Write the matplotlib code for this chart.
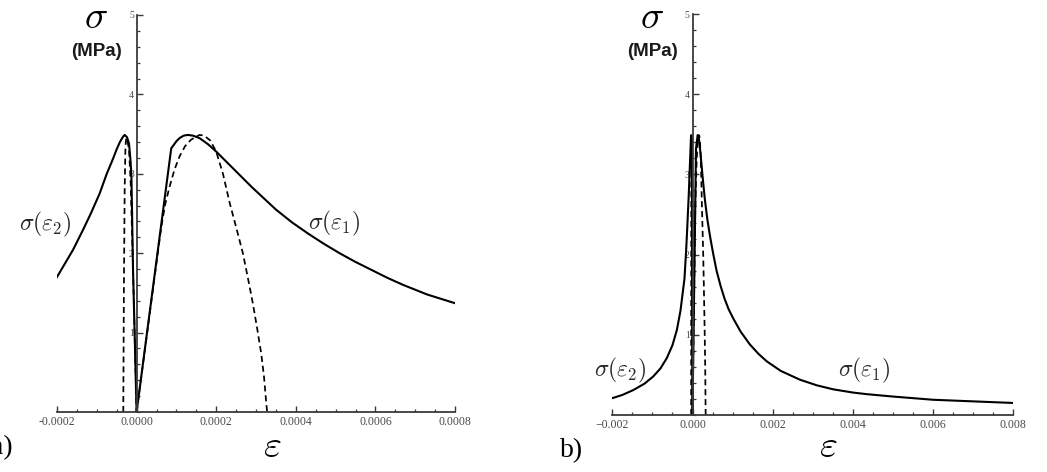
import matplotlib
matplotlib.use("Agg")
import matplotlib.pyplot as plt
from matplotlib.ticker import MultipleLocator, FixedLocator, FixedFormatter

plt.rcParams['mathtext.fontset'] = 'cm'

# ---------------- data ----------------
# panel a) compressive branch sigma(eps2), solid
eps2_a = [-2.0e-4, -1.8e-4, -1.6e-4, -1.35e-4, -1.15e-4, -9.3e-5, -7.5e-5, -6.0e-5,
          -5.0e-5, -4.2e-5, -3.5e-5, -3.0e-5, -2.4e-5, -1.9e-5, -1.5e-5, -1.3e-5,
          -1.1e-5, -9e-6, -6e-6, -3e-6, 0.0]
sig2_a = [1.70, 1.87, 2.04, 2.29, 2.50, 2.75, 3.00, 3.18,
          3.31, 3.40, 3.46, 3.49, 3.46, 3.38, 3.15, 2.96,
          2.40, 1.79, 1.20, 0.60, 0.0]
# panel a) tensile branch sigma(eps1), solid
eps1_a = [0.0, 8.7e-5, 1.0e-4, 1.08e-4, 1.18e-4, 1.29e-4, 1.42e-4, 1.58e-4, 1.8e-4,
          2.0e-4, 2.3e-4, 2.6e-4, 2.9e-4, 3.2e-4, 3.5e-4, 3.9e-4, 4.3e-4,
          4.7e-4, 5.1e-4, 5.5e-4, 5.9e-4, 6.3e-4, 6.7e-4, 7.3e-4, 8.0e-4]
sig1_a = [0.0, 3.32, 3.41, 3.45, 3.48, 3.49, 3.48, 3.45, 3.37,
          3.28, 3.13, 2.98, 2.83, 2.69, 2.55, 2.39, 2.25,
          2.12, 2.00, 1.89, 1.79, 1.69, 1.60, 1.48, 1.37]
# dashed curves (same in both panels)
eps2_dash = [-3.35e-5, -3.2e-5, -3.0e-5, -2.8e-5, -2.6e-5, -2.3e-5, -1.9e-5,
             -1.5e-5, -1.0e-5, -5e-6, 0.0]
sig2_dash = [0.0, 1.5, 2.8, 3.35, 3.45, 3.42, 3.30, 2.90, 2.00, 1.00, 0.0]
eps1_dash = [0.0, 3.0e-5, 6.2e-5, 7.2e-5, 8.3e-5, 9.5e-5, 1.08e-4, 1.22e-4, 1.37e-4,
             1.58e-4, 1.7e-4, 1.85e-4, 2.0e-4, 2.17e-4, 2.34e-4, 2.5e-4, 2.67e-4,
             2.8e-4, 2.92e-4, 3.03e-4, 3.13e-4, 3.2e-4, 3.26e-4, 3.28e-4]
sig1_dash = [0.0, 1.13, 2.33, 2.62, 2.84, 3.05, 3.22, 3.35, 3.43,
             3.49, 3.48, 3.42, 3.28, 3.00, 2.63, 2.33, 2.00,
             1.68, 1.37, 1.05, 0.74, 0.45, 0.10, 0.0]
# panel b) solid curves
eps2_b = [-2.0e-3, -1.75e-3, -1.48e-3, -1.2e-3, -9.8e-4, -8.0e-4, -6.4e-4, -5.0e-4,
          -3.9e-4, -3.0e-4, -2.3e-4, -2.0e-4, -1.6e-4, -1.35e-4, -9.3e-5, -6.0e-5,
          -3.8e-5, -3.0e-5, -1.9e-5, -1.3e-5, -9e-6, 0.0]
sig2_b = [0.21, 0.25, 0.31, 0.39, 0.48, 0.58, 0.71, 0.87,
          1.06, 1.30, 1.58, 1.70, 2.04, 2.29, 2.75, 3.18,
          3.46, 3.49, 3.38, 2.96, 1.79, 0.0]
eps1_b = [0.0, 8.7e-5, 1.29e-4, 1.58e-4, 2.0e-4, 2.5e-4, 3.1e-4, 3.7e-4, 4.4e-4,
          5.2e-4, 6.0e-4, 7.0e-4, 8.0e-4, 9.0e-4, 1.02e-3, 1.2e-3, 1.43e-3,
          1.65e-3, 1.85e-3, 2.2e-3, 2.68e-3, 3.1e-3, 3.51e-3, 4.0e-3, 4.34e-3,
          5.0e-3, 6.0e-3, 7.0e-3, 8.0e-3]
sig1_b = [0.0, 3.32, 3.49, 3.45, 3.26, 2.98, 2.68, 2.44, 2.22,
          2.00, 1.80, 1.61, 1.45, 1.32, 1.20, 1.04, 0.88,
          0.76, 0.67, 0.55, 0.44, 0.37, 0.32, 0.28, 0.26,
          0.23, 0.19, 0.17, 0.15]

xticks_a = [-0.0002, 0.0, 0.0002, 0.0004, 0.0006, 0.0008]
xlabels_a = ["-0.0002", "0.0000", "0.0002", "0.0004", "0.0006", "0.0008"]
xticks_b = [-0.002, 0.0, 0.002, 0.004, 0.006, 0.008]
xlabels_b = ["\u22120.002", "0.000", "0.002", "0.004", "0.006", "0.008"]
yticks = [1, 2, 3, 4, 5]
ylabels = ["1", "2", "3", "4", "5"]

# ---------------- figure ----------------
W, H = 1047, 472
fig = plt.figure(figsize=(W / 100, H / 100), dpi=100)

def px(x, y):
    return x / W, 1 - y / H

axA = fig.add_axes([57 / W, (H - 412) / H, 398 / W, 397 / H])
axB = fig.add_axes([612.3 / W, (H - 415) / H, 401 / W, 401 / H])

axis_col = "#3a3a3a"
lab_col = "#4a4a4a"
lw_s = 1.5
lw_d = 1.25
dash = (0, (3.5, 2.2))

def style(ax, xlim, xt, xl, xminor):
    ax.set_xlim(*xlim)
    ax.set_ylim(0, 5)
    for s in ("top", "right"):
        ax.spines[s].set_visible(False)
    ax.spines["left"].set_position(("data", 0))
    ax.spines["bottom"].set_position(("data", 0))
    for s in ("left", "bottom"):
        ax.spines[s].set_color(axis_col)
        ax.spines[s].set_linewidth(1.3)
    ax.xaxis.set_major_locator(FixedLocator(xt))
    ax.xaxis.set_major_formatter(FixedFormatter(xl))
    ax.xaxis.set_minor_locator(MultipleLocator(xminor))
    ax.yaxis.set_major_locator(FixedLocator(yticks))
    ax.yaxis.set_major_formatter(FixedFormatter(ylabels))
    ax.yaxis.set_minor_locator(MultipleLocator(0.2))
    ax.tick_params(axis="both", which="major", direction="in", length=4.5,
                   width=1.0, color=axis_col)
    ax.tick_params(axis="both", which="minor", direction="in", length=2.5,
                   width=0.9, color=axis_col)
    ax.tick_params(axis="x", which="major", pad=3, labelsize=8.5, labelcolor=lab_col)
    ax.tick_params(axis="y", which="major", pad=2, labelsize=7, labelcolor=lab_col)
    for t in ax.get_xticklabels() + ax.get_yticklabels():
        t.set_fontfamily("Liberation Serif")
    ax.patch.set_alpha(0)

style(axA, (-0.0002, 0.0008), xticks_a, xlabels_a, 0.00005)
style(axB, (-0.002, 0.008), xticks_b, xlabels_b, 0.0005)

# panel a curves
axA.plot(eps2_a, sig2_a, color="black", lw=lw_s, solid_joinstyle="round")
axA.plot(eps1_a, sig1_a, color="black", lw=lw_s, solid_joinstyle="round")
axA.plot(eps2_dash, sig2_dash, color="black", lw=lw_d, linestyle=dash)
axA.plot(eps1_dash, sig1_dash, color="black", lw=lw_d, linestyle=dash)

# panel b curves
axB.plot(eps2_b, sig2_b, color="black", lw=lw_s, solid_joinstyle="round")
axB.plot(eps1_b, sig1_b, color="black", lw=lw_s, solid_joinstyle="round")
axB.plot(eps2_dash, sig2_dash, color="black", lw=lw_d, linestyle=dash)
axB.plot(eps1_dash, sig1_dash, color="black", lw=lw_d, linestyle=dash)

# texts
txt_col = "#262626"
for (sx, mx, ex) in [(96, 97, 272), (652, 652.5, 828)]:
    fig.text(*px(sx, 17), r"$\sigma$", fontsize=28, ha="center", va="center", color="black")
    fig.text(*px(mx, 51), "(MPa)", fontsize=13.5, fontweight="bold",
             family="Liberation Sans", ha="center", va="center", color="#1a1a1a")
    fig.text(*px(ex, 446), r"$\varepsilon$", fontsize=28, ha="center", va="center", color="black")

fig.text(*px(45, 224), r"$\sigma(\varepsilon_2)$", fontsize=17, ha="center", va="center", color=txt_col)
fig.text(*px(334, 223), r"$\sigma(\varepsilon_1)$", fontsize=17, ha="center", va="center", color=txt_col)
fig.text(*px(620, 370), r"$\sigma(\varepsilon_2)$", fontsize=17, ha="center", va="center", color=txt_col)
fig.text(*px(864, 370), r"$\sigma(\varepsilon_1)$", fontsize=17, ha="center", va="center", color=txt_col)

fig.text(*px(13, 448), "a)", fontsize=20, family="Liberation Serif", ha="right", va="center", color="black")
fig.text(*px(572, 451), "b)", fontsize=20, family="Liberation Serif", ha="center", va="center", color="black")

fig.savefig("out.png", dpi=100)
